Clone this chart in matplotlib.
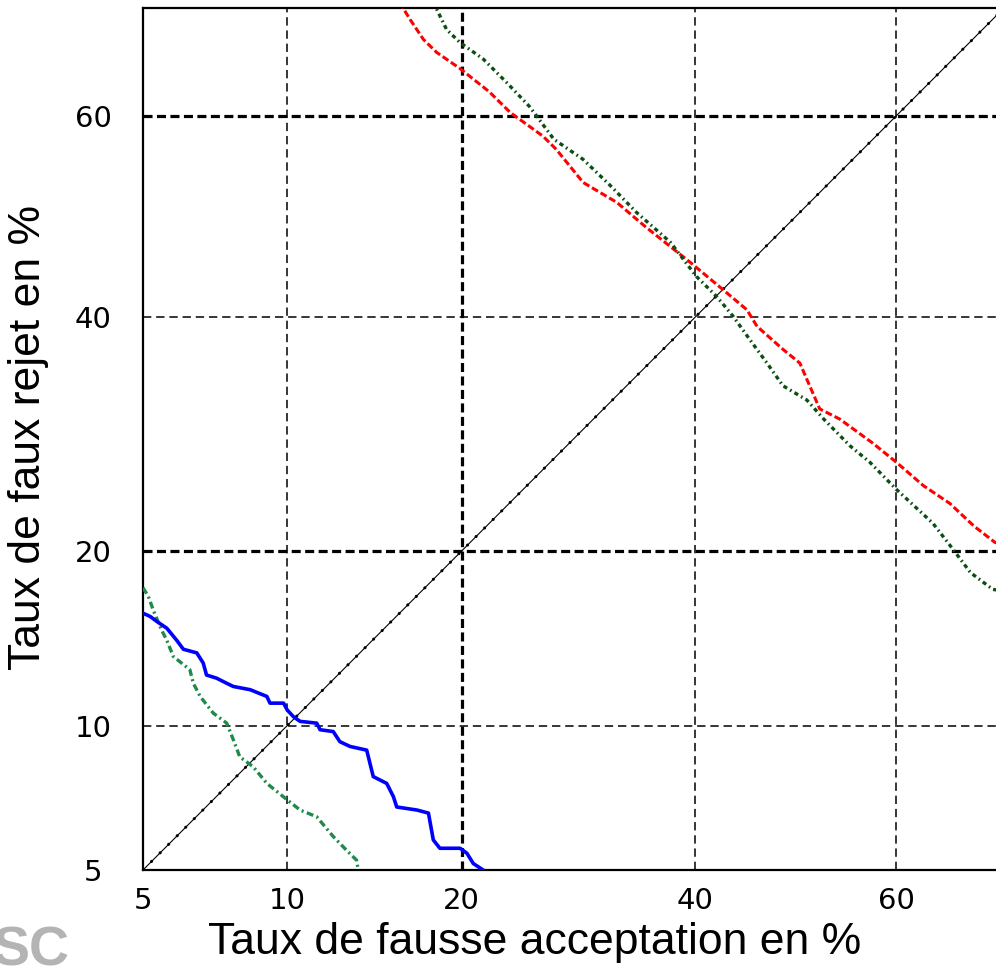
import math
import numpy as np
import matplotlib
matplotlib.use("Agg")
import matplotlib.pyplot as plt

# DET curves, values in percent
ticks = [5, 10, 20, 40, 60]
bold_x = [20]
bold_y = [20, 60]

blue_far = [5.0, 5.19, 5.37, 5.65, 5.94, 6.14, 6.56, 6.77, 6.88, 7.22, 7.58, 7.82, 8.46, 9.13,
            9.26, 9.84, 10.0, 10.28, 10.58, 11.37, 11.53, 12.19, 12.53, 13.07, 13.98, 14.16,
            14.35, 15.13, 15.53, 15.73, 16.98, 17.73, 18.05, 18.49, 19.88, 20.36, 20.82, 21.54]
blue_frr = [15.9, 15.7, 15.4, 15.0, 14.3, 13.8, 13.6, 13.05, 12.42, 12.26, 12.0, 11.84, 11.68, 11.35,
            11.03, 11.03, 10.71, 10.4, 10.19, 10.11, 9.82, 9.74, 9.31, 9.11, 8.96, 8.44,
            7.93, 7.68, 7.21, 6.86, 6.76, 6.66, 5.83, 5.59, 5.59, 5.45, 5.17, 5.0]

green_far = [5.0, 5.14, 5.27, 5.50, 5.65, 5.84, 6.34, 6.45, 6.67, 7.11, 7.58, 7.82, 8.06, 8.58,
             9.13, 10.0, 10.58, 11.37, 12.19, 12.87, 13.42, 13.51]
green_frr = [17.5, 16.95, 16.1, 14.9, 14.3, 13.4, 12.7, 12.0, 11.35, 10.56, 10.11, 9.39, 8.69, 8.30,
             7.68, 7.10, 6.76, 6.54, 5.93, 5.54, 5.26, 5.0]

red_far = [15.9, 16.55, 17.4, 18.28, 19.88, 22.0, 23.6, 26.2, 27.3, 29.6, 32.6, 35.3, 39.5, 42.7,
           45.1, 46.1, 48.7, 50.4, 51.1, 52.4, 54.4, 57.7, 60.0, 62.6, 65.1, 67.3, 69.2, 70.5]
red_frr = [70.5, 69.0, 67.2, 66.0, 64.5, 62.3, 60.3, 58.0, 56.7, 53.4, 51.4, 48.9, 45.4, 42.7,
           40.7, 39.1, 36.9, 35.6, 34.1, 31.4, 30.5, 28.4, 26.8, 24.9, 23.5, 21.8, 20.6, 20.3]

dkgreen_far = [18.05, 18.94, 19.88, 21.54, 23.3, 25.1, 27.1, 29.6, 32.0, 34.4, 37.6, 40.1, 42.1,
               43.7, 45.4, 47.1, 48.7, 51.1, 52.8, 55.4, 57.4, 60.0, 63.5, 65.4, 67.0, 69.0, 70.5]
dkgreen_frr = [70.5, 68.1, 66.9, 65.4, 63.2, 60.9, 57.7, 55.7, 53.1, 50.4, 47.4, 44.0, 42.0,
               40.1, 37.8, 35.6, 33.5, 32.2, 30.5, 28.2, 26.8, 24.6, 22.0, 20.1, 18.5, 17.4, 17.2]

diag = [5, 72]

_erf = np.vectorize(math.erf, otypes=[float])


def norm_cdf(z):
    return 0.5 * (1.0 + _erf(np.asarray(z, dtype=float) / math.sqrt(2.0)))


def norm_ppf(p):
    p = np.asarray(p, dtype=float)
    lo = np.full(p.shape, -10.0)
    hi = np.full(p.shape, 10.0)
    for _ in range(60):
        mid = 0.5 * (lo + hi)
        below = norm_cdf(mid) < p
        lo = np.where(below, mid, lo)
        hi = np.where(below, hi, mid)
    return 0.5 * (lo + hi)


def forward(v):
    return norm_ppf(np.clip(np.asarray(v, dtype=float) / 100.0, 1e-7, 1 - 1e-7))


def inverse(z):
    return 100.0 * norm_cdf(z)


plt.rcParams['lines.scale_dashes'] = False

fig = plt.figure(figsize=(9.96, 9.75), dpi=100)
ax = fig.add_axes([143 / 996, 105 / 975, 861 / 996, 862 / 975])
ax.set_xscale('function', functions=(forward, inverse))
ax.set_yscale('function', functions=(forward, inverse))
ax.set_xlim(5, 70)
ax.set_ylim(5, 70)

# grid, the 20 lines (and 60 on y) come out heavier in the reference
for t in ticks[1:]:
    if t in bold_x:
        ax.axvline(t, color='black', lw=2.3, dashes=(6.5, 3.2), zorder=1)
    else:
        ax.axvline(t, color='black', lw=1.1, dashes=(6.0, 3.5), zorder=1)
    if t in bold_y:
        ax.axhline(t, color='black', lw=2.3, dashes=(6.5, 3.2), zorder=1)
    else:
        ax.axhline(t, color='black', lw=1.1, dashes=(6.0, 3.5), zorder=1)

ax.plot(diag, diag, color='black', lw=0.8, zorder=2)
ax.plot(diag, diag, color='black', lw=2.2, ls=(0, (0.1, 8.6)),
        dash_capstyle='round', zorder=2)

ax.plot(blue_far, blue_frr, color='#0000ff', lw=2.6, zorder=4)
ax.plot(green_far, green_frr, color='#1f8a4c', lw=2.4, ls=(0, (5, 2.5, 1.5, 2.5)), zorder=3)
ax.plot(red_far, red_frr, color='#ff0000', lw=2.2, ls=(0, (5, 2.2)), zorder=3)
ax.plot(dkgreen_far, dkgreen_frr, color='#0b4f12', lw=2.4, ls=(0, (3, 2.5, 1.2, 2.5)), zorder=3)

ax.set_xticks(ticks)
ax.set_yticks(ticks)
ax.set_xticklabels([str(t) for t in ticks])
ax.set_yticklabels([str(t) for t in ticks])
ax.minorticks_off()
ax.tick_params(axis='both', length=0, labelsize=21, colors='black')
ax.tick_params(axis='x', pad=12)
ax.tick_params(axis='y', pad=36)
for lab in ax.get_yticklabels():
    lab.set_horizontalalignment('center')

for side in ['left', 'bottom', 'top', 'right']:
    ax.spines[side].set_linewidth(1.6)
    ax.spines[side].set_color('black')

ax.set_xlabel('Taux de fausse acceptation en %', fontsize=32, family='Liberation Sans')
ax.set_ylabel('Taux de faux rejet en %', fontsize=32, family='Liberation Sans')
ax.xaxis.set_label_coords(392 / 861, -52 / 862)
ax.yaxis.set_label_coords(-94 / 861, 433 / 862)

fig.text(-8 / 996, 50 / 975, 'SC', fontsize=40, fontweight='bold', color='#b4b4b4',
         va='top', ha='left', family='Liberation Sans')

fig.savefig('out.png', dpi=100)
